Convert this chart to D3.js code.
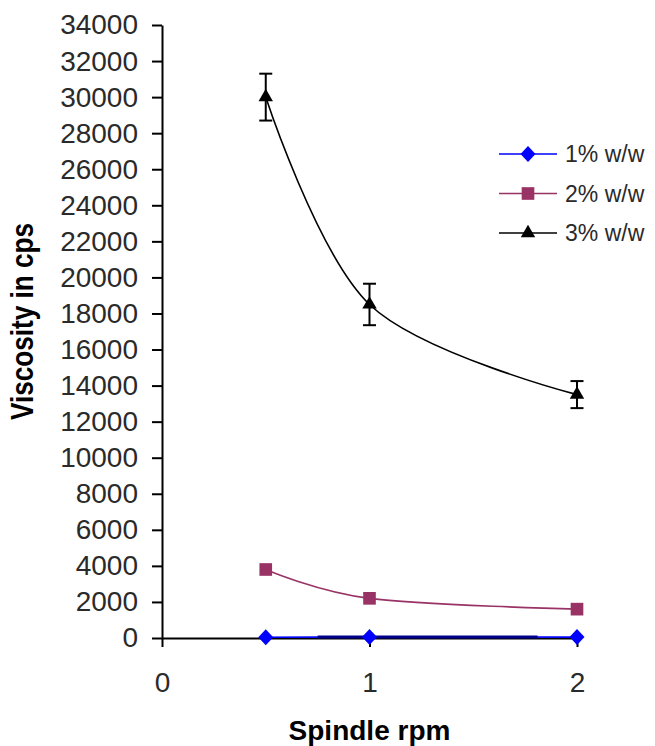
<!DOCTYPE html>
<html>
<head>
<meta charset="utf-8">
<script src="https://cdn.jsdelivr.net/npm/d3@7"></script>
<style>
  body { margin: 0; background: #fff; }
  svg { display: block; font-family: "Liberation Sans", Arial, sans-serif; }
</style>
</head>
<body>
<div id="chart"></div>
<script>
const WIDTH = 655;
const HEIGHT = 746;

// data
const rpm = [0.5, 1, 2];
const seriesNames = ["1% w/w", "2% w/w", "3% w/w"];
const visc1 = [40, 60, 50];
const visc2 = [3800, 2200, 1600];
const visc3 = [30000, 18500, 13500];
const err3 = [1300, 1150, 750];
const yTicks = d3.range(0, 34001, 2000);
const xTicks = [0, 1, 2];
const onePctBand = [0.75, 1.81]; // darker overlay on the 1% line

const x = d3.scaleLinear().domain([0, 2]).range([162, 577]);
const y = d3.scaleLinear().domain([0, 34000]).range([638, 25]);

const svg = d3.select("#chart")
    .append("svg")
    .attr("width", WIDTH)
    .attr("height", HEIGHT);

/* AXES */

const yAxis = svg.append("g")
    .attr("transform", `translate(${x(0)},0)`)
    .call(d3.axisLeft(y).tickValues(yTicks).tickSize(10).tickSizeOuter(0).tickPadding(14).tickFormat(d3.format("d")));

const xAxis = svg.append("g")
    .attr("transform", `translate(0,${y(0)})`)
    .call(d3.axisBottom(x).tickValues(xTicks).tickSize(9).tickSizeOuter(0).tickPadding(25).tickFormat(d3.format("d")));

[yAxis, xAxis].forEach(a => {
    a.select(".domain").attr("stroke", "#000").attr("stroke-width", 2);
    a.selectAll(".tick line").attr("stroke", "#000").attr("stroke-width", 2);
    a.selectAll(".tick text")
        .attr("fill", "#2a2a2a")
        .style("font-size", "28px")
        .style("font-family", "'Liberation Sans', Arial, sans-serif");
});

svg.append("text")
    .attr("transform", `translate(33,${(223 + 420) / 2}) rotate(-90)`)
    .attr("text-anchor", "middle")
    .attr("textLength", 197)
    .attr("lengthAdjust", "spacingAndGlyphs")
    .style("font-size", "31px")
    .style("font-weight", "bold")
    .text("Viscosity in cps");

svg.append("text")
    .attr("x", x(1))
    .attr("y", 740)
    .attr("text-anchor", "middle")
    .style("font-size", "28px")
    .style("font-weight", "bold")
    .text("Spindle rpm");

/* SERIES */

const line = d3.line()
    .x(d => x(d[0]))
    .y(d => y(d[1]))
    .curve(d3.curveCardinal.tension(0));

const series = [
    { name: seriesNames[0], values: visc1, color: "#0000ff", marker: "diamond" },
    { name: seriesNames[1], values: visc2, color: "#993366", marker: "square" },
    { name: seriesNames[2], values: visc3, color: "#000000", marker: "triangle" }
];

const markerPath = {
    diamond: "M0,-8L7.5,0L0,8L-7.5,0Z",
    square: d3.symbol().type(d3.symbolSquare).size(160)(),
    triangle: d3.symbol().type(d3.symbolTriangle).size(90)()
};

series.forEach(s => {
    svg.append("path")
        .datum(rpm.map((r, i) => [r, s.values[i]]))
        .attr("fill", "none")
        .attr("stroke", s.color)
        .attr("stroke-width", 1.6)
        .attr("d", line);
});

// darker stretch on the 1% line
svg.append("line")
    .attr("x1", x(onePctBand[0]))
    .attr("x2", x(onePctBand[1]))
    .attr("y1", y(visc1[1]))
    .attr("y2", y(visc1[1]))
    .attr("stroke", "#00008b")
    .attr("stroke-width", 3);

// error bars on 3% series
const eb = svg.append("g").attr("stroke", "#000").attr("stroke-width", 2);
rpm.forEach((r, i) => {
    const cx = x(r);
    const top = y(visc3[i] + err3[i]);
    const bot = y(visc3[i] - err3[i]);
    eb.append("line").attr("x1", cx).attr("x2", cx).attr("y1", top).attr("y2", bot);
    eb.append("line").attr("x1", cx - 6.5).attr("x2", cx + 6.5).attr("y1", top).attr("y2", top);
    eb.append("line").attr("x1", cx - 6.5).attr("x2", cx + 6.5).attr("y1", bot).attr("y2", bot);
});

series.forEach(s => {
    svg.append("g").selectAll("path")
        .data(rpm.map((r, i) => [r, s.values[i]]))
        .enter()
        .append("path")
        .attr("transform", d => `translate(${x(d[0])},${y(d[1])})`)
        .attr("d", markerPath[s.marker])
        .attr("fill", s.color);
});

/* LEGEND */

const legend = svg.append("g").attr("transform", "translate(499,154)");

series.forEach((s, i) => {
    const row = legend.append("g").attr("transform", `translate(0,${i * 39.5})`);
    row.append("line")
        .attr("x1", 0).attr("x2", 58)
        .attr("stroke", s.color)
        .attr("stroke-width", 1.6);
    row.append("path")
        .attr("transform", "translate(29,0)")
        .attr("d", markerPath[s.marker])
        .attr("fill", s.color);
    row.append("text")
        .attr("x", 66)
        .attr("y", 8)
        .attr("fill", "#2a2a2a")
        .style("font-size", "23px")
        .text(s.name);
});
</script>
</body>
</html>
